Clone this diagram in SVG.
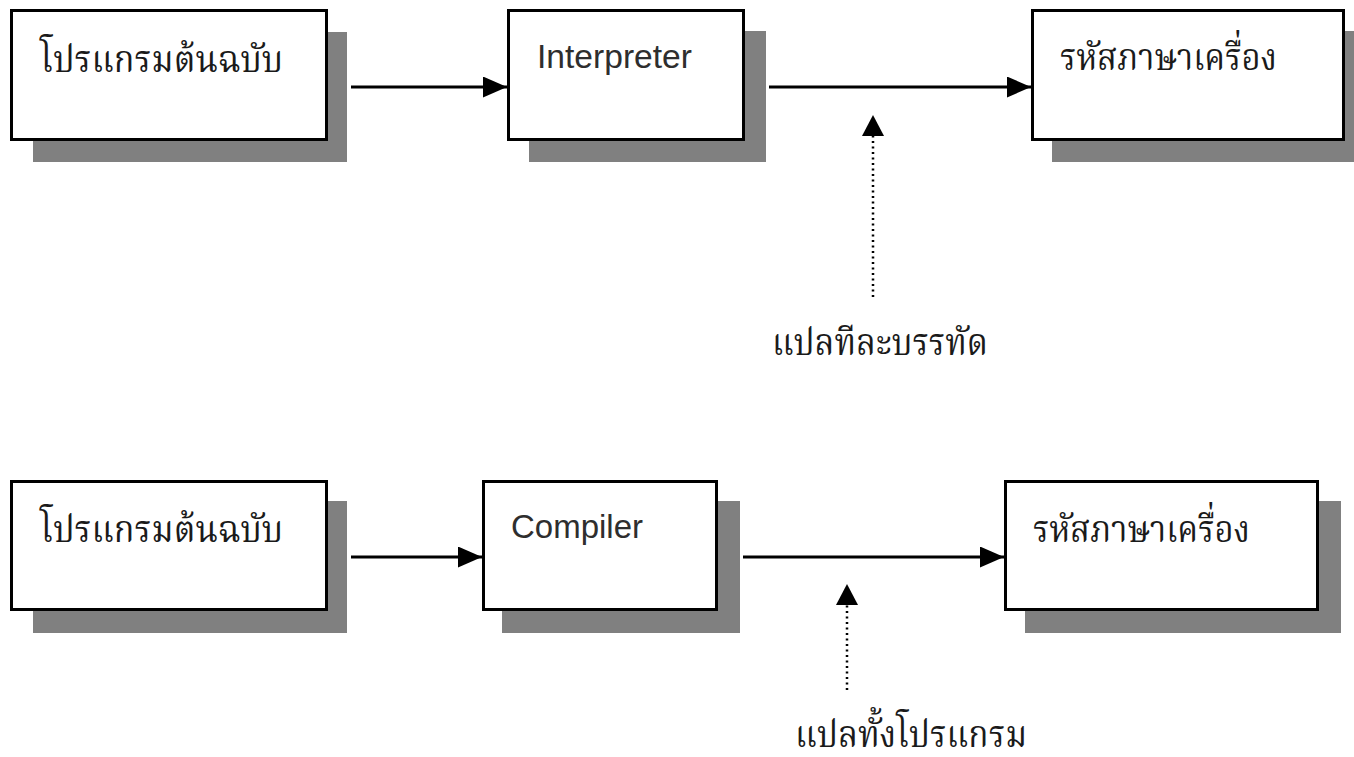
<svg xmlns="http://www.w3.org/2000/svg" width="1354" height="757" viewBox="0 0 1354 757">
  <style>
    .shadow { fill: #808080; }
    .box { fill: #ffffff; stroke: #000000; stroke-width: 3; }
    .th { font-family: "Norasi", "Noto Serif Thai", "Kinnari", "Noto Sans Thai", "Loma", "DejaVu Sans", serif; font-size: 38px; fill: #1a1a1a; }
    .en { font-family: "Liberation Sans", Arial, sans-serif; font-size: 33px; fill: #2e2e2e; }
    .flow { stroke: #000000; stroke-width: 3; fill: none; marker-end: url(#head); }
    .note { stroke: #000000; stroke-width: 2.5; stroke-dasharray: 2 3.5; fill: none; }
  </style>
  <defs>
    <marker id="head" markerWidth="8" markerHeight="7" refX="8" refY="3.5" orient="auto" markerUnits="strokeWidth">
      <path d="M0,0 L8,3.5 L0,7 Z" fill="#000000"/>
    </marker>
  </defs>
  <rect width="1354" height="757" fill="#ffffff"/>

  <!-- upper row: interpreter -->
  <g id="source-top">
    <rect class="shadow" x="33" y="32" width="314" height="130"/>
    <rect class="box" x="11.5" y="10.5" width="315" height="129"/>
    <text class="th" x="40" y="72" textLength="243" lengthAdjust="spacingAndGlyphs">โปรแกรมต้นฉบับ</text>
  </g>
  <g id="interpreter">
    <rect class="shadow" x="529" y="31" width="237" height="131"/>
    <rect class="box" x="508.5" y="10.5" width="235" height="129"/>
    <text class="en" x="537" y="68" textLength="155" lengthAdjust="spacingAndGlyphs">Interpreter</text>
  </g>
  <g id="machine-top">
    <rect class="shadow" x="1052" y="31" width="302" height="131"/>
    <rect class="box" x="1032.5" y="10.5" width="311" height="129"/>
    <text class="th" x="1060" y="70" textLength="217" lengthAdjust="spacingAndGlyphs">รหัสภาษาเครื่อง</text>
  </g>
  <g id="label-line">
    <text class="th" x="772" y="355" textLength="216" lengthAdjust="spacingAndGlyphs">แปลทีละบรรทัด</text>
  </g>

  <!-- lower row: compiler -->
  <g id="source-bottom">
    <rect class="shadow" x="33" y="501" width="314" height="132"/>
    <rect class="box" x="11.5" y="481.5" width="315" height="128"/>
    <text class="th" x="40" y="542" textLength="243" lengthAdjust="spacingAndGlyphs">โปรแกรมต้นฉบับ</text>
  </g>
  <g id="compiler">
    <rect class="shadow" x="502" y="501" width="238" height="132"/>
    <rect class="box" x="483.5" y="481.5" width="233" height="128"/>
    <text class="en" x="511" y="538" textLength="132" lengthAdjust="spacingAndGlyphs">Compiler</text>
  </g>
  <g id="machine-bottom">
    <rect class="shadow" x="1025" y="501" width="316" height="132"/>
    <rect class="box" x="1005.5" y="481.5" width="312" height="128"/>
    <text class="th" x="1033" y="542" textLength="217" lengthAdjust="spacingAndGlyphs">รหัสภาษาเครื่อง</text>
  </g>
  <g id="label-whole">
    <text class="th" x="795" y="747" textLength="232" lengthAdjust="spacingAndGlyphs">แปลทั้งโปรแกรม</text>
  </g>

  <g id="connectors">
    <line class="flow" x1="351" y1="87" x2="507" y2="87"/>
    <line class="flow" x1="769" y1="87" x2="1031" y2="87"/>
    <line class="note" x1="873" y1="297" x2="873" y2="133"/>
    <path d="M873,115 L884,136 L862,136 Z" fill="#000000"/>
    <line class="flow" x1="351" y1="557" x2="482" y2="557"/>
    <line class="flow" x1="743" y1="557" x2="1004" y2="557"/>
    <line class="note" x1="847" y1="690" x2="847" y2="603"/>
    <path d="M847,584 L858,605 L836,605 Z" fill="#000000"/>
  </g>
</svg>
